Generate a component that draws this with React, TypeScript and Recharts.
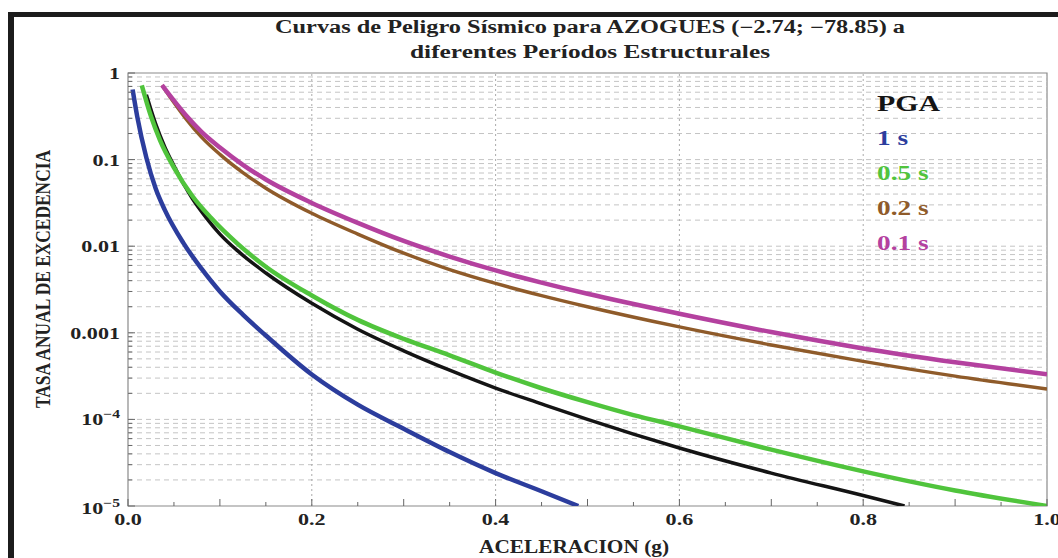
import { LineChart, Line, XAxis, YAxis, ReferenceLine, ReferenceArea, Legend } from 'recharts';

// Aceleración (g) / tasa anual de excedencia
const PGA_X = [0.02, 0.03, 0.04, 0.05, 0.07, 0.085, 0.1, 0.12, 0.15, 0.2, 0.25, 0.3, 0.35, 0.4, 0.45, 0.5, 0.55, 0.6, 0.7, 0.8, 0.845];
const PGA_Y = [0.56, 0.26, 0.14, 0.085, 0.0355, 0.0214, 0.0138, 0.0087, 0.0049, 0.00219, 0.0011, 0.00062, 0.00037, 0.00023, 0.000151, 0.0001, 0.0000676, 0.0000468, 0.000024, 0.0000132, 0.00001];

const T1_X = [0.005, 0.01, 0.02, 0.03, 0.04, 0.06, 0.08, 0.1, 0.125, 0.15, 0.2, 0.25, 0.3, 0.35, 0.4, 0.45, 0.49];
const T1_Y = [0.645, 0.316, 0.105, 0.0468, 0.0263, 0.011, 0.0055, 0.003, 0.00162, 0.00093, 0.00033, 0.000148, 0.000078, 0.000042, 0.000024, 0.0000148, 0.00001];

const T05_X = [0.015, 0.025, 0.035, 0.05, 0.07, 0.09, 0.12, 0.15, 0.2, 0.25, 0.3, 0.35, 0.4, 0.45, 0.5, 0.55, 0.6, 0.7, 0.8, 0.9, 1.0];
const T05_Y = [0.72, 0.316, 0.166, 0.081, 0.038, 0.0214, 0.0105, 0.0058, 0.0027, 0.00141, 0.00085, 0.00055, 0.000347, 0.000229, 0.000158, 0.000112, 0.0000832, 0.0000447, 0.0000251, 0.0000151, 0.00001];

const T02_X = [0.037, 0.05, 0.064, 0.08, 0.1, 0.125, 0.15, 0.2, 0.25, 0.3, 0.35, 0.4, 0.45, 0.5, 0.6, 0.7, 0.8, 0.9, 1.0];
const T02_Y = [0.724, 0.457, 0.288, 0.182, 0.115, 0.0708, 0.0468, 0.024, 0.0138, 0.0083, 0.00537, 0.00372, 0.00269, 0.002, 0.00117, 0.000724, 0.000468, 0.000316, 0.000224];

const T01_X = [0.037, 0.05, 0.064, 0.08, 0.1, 0.125, 0.15, 0.2, 0.25, 0.3, 0.35, 0.4, 0.45, 0.5, 0.6, 0.7, 0.8, 0.9, 1.0];
const T01_Y = [0.724, 0.479, 0.316, 0.209, 0.138, 0.0871, 0.0589, 0.0316, 0.0186, 0.0115, 0.00759, 0.00525, 0.0038, 0.00282, 0.00166, 0.00102, 0.00066, 0.000457, 0.000331];

const X_TICKS = [0, 0.05, 0.1, 0.15, 0.2, 0.25, 0.3, 0.35, 0.4, 0.45, 0.5, 0.55, 0.6, 0.65, 0.7, 0.75, 0.8, 0.85, 0.9, 0.95, 1];
const X_GRID = [0.2, 0.4, 0.6, 0.8];
const DECADES = [1e-5, 1e-4, 1e-3, 0.01, 0.1, 1];
const MINOR = [2, 3, 4, 5, 6, 7, 8, 9];
const Y_TICKS = [...DECADES, ...DECADES.slice(0, 5).flatMap(d => MINOR.map(m => m * d))];
const Y_GRID = Y_TICKS.filter(v => v > 1e-5 && v < 1);

const zip = (xs: number[], ys: number[]) => xs.map((x, i) => ({ x, y: ys[i] }));

const SERIES = [
  { name: 'PGA', color: '#141414', width: 3.5, data: zip(PGA_X, PGA_Y) },
  { name: '1 s', color: '#2c3d9d', width: 4.5, data: zip(T1_X, T1_Y) },
  { name: '0.5 s', color: '#50c43c', width: 4.5, data: zip(T05_X, T05_Y) },
  { name: '0.2 s', color: '#8f5b2a', width: 3.5, data: zip(T02_X, T02_Y) },
  { name: '0.1 s', color: '#b4419f', width: 4.5, data: zip(T01_X, T01_Y) },
];

const FONT = '"Liberation Serif", "Times New Roman", serif';
const SX = 1.3; // el original está estirado en horizontal
const TICK_COLOR = '#666';

const isDecade = (v: number) => Math.abs(Math.log10(v) - Math.round(Math.log10(v))) < 1e-6;
const isMult = (v: number, s: number) => Math.abs(v / s - Math.round(v / s)) < 1e-6;

function BottomTick({ x, y, payload }: any) {
  const v = payload.value;
  const len = isMult(v, 0.1) ? 7 : 4;
  return (
    <g>
      <line x1={x} x2={x} y1={y} y2={y - len} stroke={TICK_COLOR} />
      {isMult(v, 0.2) && (
        <text transform={`translate(${x},${y + 19}) scale(${SX},1)`} textAnchor="middle"
          fontFamily={FONT} fontWeight="bold" fontSize={17} fill="#222">{v.toFixed(1)}</text>
      )}
    </g>
  );
}

function TopTick({ x, y, payload }: any) {
  const len = isMult(payload.value, 0.1) ? 7 : 4;
  return <line x1={x} x2={x} y1={y} y2={y + len} stroke={TICK_COLOR} />;
}

function yLabel(v: number) {
  if (v >= 0.001) return <tspan>{String(v)}</tspan>;
  const e = Math.round(Math.log10(v));
  return (
    <>
      <tspan>10</tspan>
      <tspan dy={-7} fontSize={12}>{'\u2212' + Math.abs(e)}</tspan>
    </>
  );
}

function LeftTick({ x, y, payload }: any) {
  const v = payload.value;
  const major = isDecade(v);
  return (
    <g>
      <line x1={x} x2={x + (major ? 7 : 4)} y1={y} y2={y} stroke={TICK_COLOR} />
      {major && (
        <text transform={`translate(${x - 8},${y + (v === 1e-5 ? 8 : 6)}) scale(${SX},1)`} textAnchor="end"
          fontFamily={FONT} fontWeight="bold" fontSize={17} fill="#222">{yLabel(v)}</text>
      )}
    </g>
  );
}

function RightTick({ x, y, payload }: any) {
  const len = isDecade(payload.value) ? 7 : 4;
  return <line x1={x} x2={x - len} y1={y} y2={y} stroke={TICK_COLOR} />;
}

function LegendList({ payload }: any) {
  const items = SERIES.map(s => (payload || []).find((p: any) => p.value === s.name) || { value: s.name, color: s.color });
  return (
    <div style={{ fontFamily: FONT, fontWeight: 'bold' }}>
      {items.map((p: any, i: number) => (
        <div key={p.value} style={{
          color: p.color, fontSize: i === 0 ? 23 : 21, lineHeight: '35px',
          transform: `scaleX(${SX})`, transformOrigin: 'left center', whiteSpace: 'nowrap',
        }}>{p.value}</div>
      ))}
    </div>
  );
}

export default function App() {
  return (
    <div style={{ position: 'absolute', left: 0, top: 0, width: 1058, height: 558, background: '#fff', overflow: 'hidden' }}>
      <div style={{ position: 'absolute', left: 8, top: 12, width: 1058, height: 560, borderTop: '5px solid #1c1c1c', borderLeft: '6px solid #1c1c1c' }} />
      <LineChart width={1058} height={558} margin={{ top: 73, right: 11, bottom: 22, left: 68 }}
        style={{ position: 'absolute', left: 0, top: 0 }}>
        <XAxis dataKey="x" type="number" domain={[0, 1]} ticks={X_TICKS} interval={0} allowDataOverflow
          height={30} axisLine={false} tickLine={false} tickSize={0} tickMargin={0} tick={BottomTick} />
        <XAxis xAxisId="top" orientation="top" type="number" domain={[0, 1]} ticks={X_TICKS} interval={0} allowDataOverflow
          height={0} axisLine={false} tickLine={false} tickSize={0} tickMargin={0} tick={TopTick} />
        <YAxis type="number" scale="log" domain={[1e-5, 1]} ticks={Y_TICKS} interval={0} allowDataOverflow
          width={60} axisLine={false} tickLine={false} tickSize={0} tickMargin={0} tick={LeftTick} />
        <YAxis yAxisId="right" orientation="right" type="number" scale="log" domain={[1e-5, 1]} ticks={Y_TICKS} interval={0} allowDataOverflow
          width={0} axisLine={false} tickLine={false} tickSize={0} tickMargin={0} tick={RightTick} />

        {Y_GRID.map(v => (
          <ReferenceLine key={'h' + v} y={v} stroke="#c4c4c4" strokeDasharray="5 4" />
        ))}
        {X_GRID.map(v => (
          <ReferenceLine key={'v' + v} x={v} stroke="#aaaaaa" strokeDasharray="2 3" />
        ))}
        <ReferenceArea x1={0} x2={1} y1={1e-5} y2={1} fill="none" stroke="#8a8a8a" strokeWidth={1.2} />

        {SERIES.map(s => (
          <Line key={s.name} name={s.name} data={s.data} dataKey="y" type="monotone"
            stroke={s.color} strokeWidth={s.width} dot={false} isAnimationActive={false} />
        ))}

        <Legend layout="vertical" align="center" verticalAlign="middle" content={LegendList}
          wrapperStyle={{ left: 877, top: 86, width: 150 }} />
      </LineChart>

      <svg width={1058} height={558} style={{ position: 'absolute', left: 0, top: 0, pointerEvents: 'none' }}>
        <g fontFamily={FONT} fontWeight="bold" fill="#222">
          <text x={590} y={33} textAnchor="middle" fontSize={18} textLength={630} lengthAdjust="spacingAndGlyphs">
            Curvas de Peligro Sísmico para AZOGUES (−2.74; −78.85) a
          </text>
          <text x={590} y={58} textAnchor="middle" fontSize={18} textLength={360} lengthAdjust="spacingAndGlyphs">
            diferentes Períodos Estructurales
          </text>
          <text x={574} y={553} textAnchor="middle" fontSize={19} textLength={190} lengthAdjust="spacingAndGlyphs">
            ACELERACION (g)
          </text>
          <text transform="translate(50,279) rotate(-90)" textAnchor="middle" fontSize={22} textLength={258} lengthAdjust="spacingAndGlyphs">
            TASA ANUAL DE EXCEDENCIA
          </text>
        </g>
      </svg>
    </div>
  );
}
